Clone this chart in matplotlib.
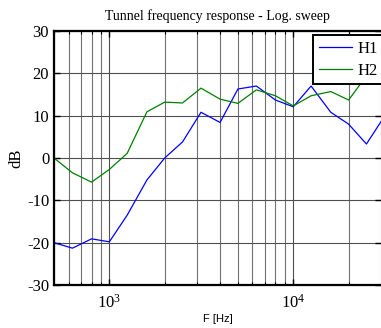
"""
Tunnel frequency response, log sweep (H1 / H2 estimates).
"""

import matplotlib
matplotlib.use('Agg')
from matplotlib import pyplot as plt
from matplotlib import ticker

# 1/3 octave band centres [Hz]
freqs = [500, 630, 800, 1000, 1250, 1600, 2000, 2500, 3150, 4000, 5000,
         6300, 8000, 10000, 12500, 16000, 20000, 25000, 31500]
h1_db = [-20.0, -21.3, -19.1, -19.8, -13.5, -5.2, 0.0, 3.8, 10.8, 8.4, 16.3,
         17.0, 13.7, 12.1, 17.0, 10.8, 8.0, 3.3, 10.0]
h2_db = [0.0, -3.5, -5.7, -2.7, 1.1, 10.9, 13.2, 13.0, 16.5, 13.9, 12.9,
         16.1, 14.7, 12.3, 14.7, 15.7, 13.7, 19.4, 21.6]
y_ticks = [-30, -20, -10, 0, 10, 20, 30]

plt.rcParams['font.family'] = ['Liberation Serif', 'DejaVu Serif']
plt.rcParams['mathtext.default'] = 'regular'
plt.rcParams['axes.unicode_minus'] = False

W, H = 381, 328
fig = plt.figure(figsize=(W / 100, H / 100), dpi=100)
ax = fig.add_axes([54 / W, 43 / H, 327 / W, 254 / H])

ax.plot(freqs, h1_db, color='#0000ff', lw=0.9, label='H1')
ax.plot(freqs, h2_db, color='#008000', lw=0.9, label='H2')

ax.set_xscale('log')
ax.set_xlim(500, 30000)
ax.set_ylim(-30, 30)
ax.set_yticks(y_ticks)
ax.xaxis.set_minor_formatter(ticker.NullFormatter())

ax.grid(True, which='major', color='#505050', lw=0.8)
ax.grid(True, which='minor', axis='x', color='#707070', lw=0.8)
ax.set_axisbelow(True)

ax.tick_params(which='both', direction='in', top=True, right=True,
               labelsize=12, colors='black')
ax.tick_params(which='major', length=4, width=1)
ax.tick_params(which='minor', length=2.5, width=0.8)
ax.tick_params(axis='x', pad=6)

for side in ['left', 'bottom', 'top']:
    ax.spines[side].set_linewidth(1.6)
ax.spines['right'].set_visible(False)

ax.set_title('Tunnel frequency response - Log. sweep', fontsize=10, pad=8)
ax.set_xlabel('F [Hz]', fontsize=8, family='Liberation Sans', labelpad=2)
ax.set_ylabel('dB', fontsize=12, labelpad=2)

leg = ax.legend(loc='upper left', bbox_to_anchor=(313 / W, 1 - 35 / H),
                bbox_transform=fig.transFigure, borderaxespad=0,
                fancybox=False, framealpha=1, edgecolor='black',
                fontsize=12, handlelength=2.0, handletextpad=0.3,
                borderpad=0.35, labelspacing=0.35)
leg.get_frame().set_linewidth(1.4)

fig.savefig('out.png', dpi=100)
